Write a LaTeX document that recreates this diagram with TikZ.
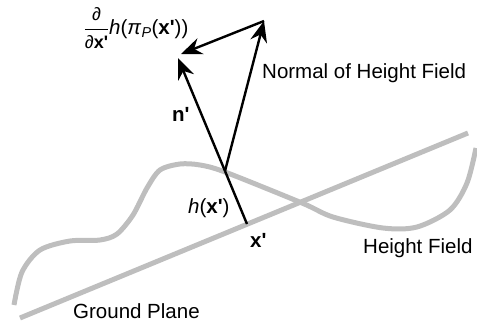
\documentclass[tikz,border=0pt]{standalone}
\usepackage{fontspec}
\setmainfont{Liberation Sans}
\usepackage{amsmath}
\usetikzlibrary{arrows.meta}
\definecolor{FieldGray}{RGB}{190,190,190}

\begin{document}
\begin{tikzpicture}[x=1pt,y=-1pt,
                vec/.style={black,line width=2.4pt,-{Stealth[length=21pt,width=17pt,inset=7pt]}},
                hl/.style={black,line width=2.4pt},
                gl/.style={FieldGray,line width=5pt},
                lbl/.style={font=\fontsize{20.5}{24}\selectfont,inner sep=0pt}
            ]
                \useasboundingbox (0,0) rectangle (477,322);
                % Ground plane and height field
                \coordinate (g0) at (20,318);
                \coordinate (g1) at (468,133);
                \draw[gl] (g0) -- (g1);
                \draw[gl] plot[smooth] coordinates {(14,305) (22,272) (40,250) (70,241) (100,240) (117,234) (133,215) (147,188) (160,170) (180,164) (200,165) (225,172) (302,203) (333,217) (383,228) (417,227) (450,210) (467,183) (476,148)};
                % Points and vectors
                \coordinate (xp) at (247,224);
                \coordinate (hb) at (225,171);
                \coordinate (hn) at (264,21);
                \coordinate (np) at (178,58);
                \coordinate (dt) at (181,54);
                \draw[hl] (xp) -- (hb);
                \draw[vec] (hb) -- (np);
                \draw[vec] (hb) -- (hn);
                \draw[vec] (hn) -- (dt);
                % Labels
                \node[lbl,anchor=center] (ldh) at (136,28) {$\dfrac{\text{\fontsize{18}{19}\selectfont ∂}}{\text{\fontsize{18}{19}\selectfont ∂\textbf{x\textquotesingle}}}$\textit{h}(\textit{π}\textsubscript{\textit{P}}(\textbf{x\textquotesingle}))};
                \node[lbl,anchor=base west] (lnp) at (172,121) {\textbf{n\textquotesingle}};
                \node[lbl,anchor=base west] (lnh) at (262,78) {Normal of Height Field};
                \node[lbl,anchor=base west] (lhx) at (188,213) {\textit{h}(\textbf{x\textquotesingle})};
                \node[lbl,anchor=base west] (lxp) at (250,247) {\textbf{x\textquotesingle}};
                \node[lbl,anchor=base west] (lhf) at (363,253) {Height Field};
                \node[lbl,anchor=base west] (lgp) at (73,318.5) {Ground Plane};
            \end{tikzpicture}
\end{document}
